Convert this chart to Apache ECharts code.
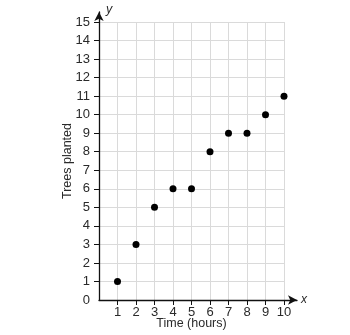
<!DOCTYPE html>
<html><head><meta charset="utf-8">
<script src="https://cdn.jsdelivr.net/npm/echarts@6/dist/echarts.min.js"></script>
<style>html,body{margin:0;padding:0;background:#fff}#c{width:350px;height:335px}</style>
</head><body><div id="c"></div>
<script>
const hours = [1, 2, 3, 4, 5, 6, 7, 8, 9, 10];
const trees = [1, 3, 5, 6, 6, 8, 9, 9, 10, 11];
const xTicks = [1, 2, 3, 4, 5, 6, 7, 8, 9, 10];
const yTicks = [0, 1, 2, 3, 4, 5, 6, 7, 8, 9, 10, 11, 12, 13, 14, 15];
const xTitle = 'Time (hours)';
const yTitle = 'Trees planted';

const font = 'Liberation Sans, Arial, sans-serif';
const txt = '#2a2a2a';
const gridMain = {left: 99, right: 66, top: 22, bottom: 35, outerBoundsMode: 'none', containLabel: false};
const gridArrow = {left: 99, right: 53, top: 12, bottom: 35, outerBoundsMode: 'none', containLabel: false};
const yTickVals = yTicks.filter(v => v > 0);

const xBase = {type: 'value', min: 0, max: 10, interval: 1, gridIndex: 0};
const yBase = {type: 'value', min: 0, max: 15, interval: 1, gridIndex: 0};

const chart = echarts.init(document.getElementById('c'));
chart.setOption({
  animation: false,
  grid: [gridMain, gridArrow],
  xAxis: [
    Object.assign({}, xBase, {
      axisLine: {show: false},
      axisTick: {show: true, inside: false, length: 5, lineStyle: {color: '#111', width: 1}, customValues: xTicks},
      axisLabel: {show: true, margin: 6, color: txt, fontFamily: font, fontSize: 13, customValues: xTicks},
      splitLine: {show: true, lineStyle: {color: '#dadada', width: 1}},
      name: xTitle, nameLocation: 'middle', nameGap: 17, nameMoveOverlap: false,
      nameTextStyle: {color: txt, fontFamily: font, fontSize: 12.5}
    }),
    Object.assign({}, xBase, {
      axisLine: {show: false},
      axisTick: {show: true, inside: true, length: 5, lineStyle: {color: '#111', width: 1}, customValues: xTicks},
      axisLabel: {show: false},
      splitLine: {show: false}
    }),
    {
      type: 'value', gridIndex: 1, min: 0, max: 1,
      axisLine: {show: true, lineStyle: {color: '#111', width: 1.3}, symbol: ['none', 'arrow'], symbolSize: [7, 9]},
      axisTick: {show: false}, axisLabel: {show: false}, splitLine: {show: false},
      name: 'x', nameLocation: 'end', nameGap: 4,
      nameTextStyle: {color: txt, fontFamily: font, fontSize: 12, fontStyle: 'italic', verticalAlign: 'middle'}
    }
  ],
  yAxis: [
    Object.assign({}, yBase, {
      axisLine: {show: false},
      axisTick: {show: true, inside: false, length: 5, lineStyle: {color: '#111', width: 1}, customValues: yTickVals},
      axisLabel: {show: true, margin: 9, color: txt, fontFamily: font, fontSize: 13, customValues: yTicks},
      splitLine: {show: true, lineStyle: {color: '#dadada', width: 1}},
      name: yTitle, nameLocation: 'middle', nameGap: 25, nameRotate: 90, nameMoveOverlap: false,
      nameTextStyle: {color: txt, fontFamily: font, fontSize: 12.5}
    }),
    Object.assign({}, yBase, {
      axisLine: {show: false},
      axisTick: {show: true, inside: true, length: 5, lineStyle: {color: '#111', width: 1}, customValues: yTickVals},
      axisLabel: {show: false},
      splitLine: {show: false}
    }),
    {
      type: 'value', gridIndex: 1, min: 0, max: 1,
      axisLine: {show: true, lineStyle: {color: '#111', width: 1.3}, symbol: ['none', 'arrow'], symbolSize: [7, 9]},
      axisTick: {show: false}, axisLabel: {show: false}, splitLine: {show: false},
      name: 'y', nameLocation: 'end', nameGap: -4,
      nameTextStyle: {color: txt, fontFamily: font, fontSize: 12.5, fontStyle: 'italic', align: 'left', padding: [0, 0, 0, 7]}
    }
  ],
  series: [{
    type: 'scatter', xAxisIndex: 0, yAxisIndex: 0,
    data: hours.map((h, i) => [h, trees[i]]),
    symbolSize: 7,
    itemStyle: {color: '#000', opacity: 1}
  }]
});
</script></body></html>
